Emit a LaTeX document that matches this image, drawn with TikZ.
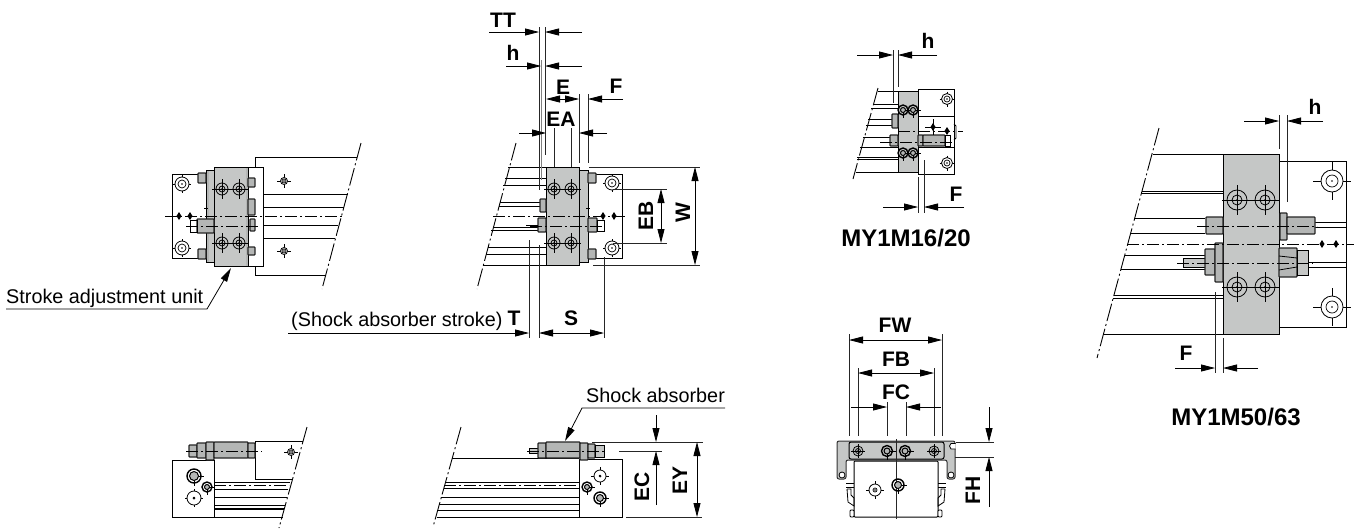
\documentclass[tikz,border=0pt]{standalone}
\usepackage{fontspec}
\setmainfont{Liberation Sans}
\usetikzlibrary{arrows.meta}
\definecolor{blockgray}{HTML}{C5C7C6}
\definecolor{midgray}{HTML}{B4B6B5}
\tikzset{
  x=1pt,y=-1pt,
  obj/.style={line width=1pt,draw=black},
  thin line/.style={line width=0.8pt,draw=black},
  heavy/.style={line width=1.6pt,draw=black},
  graybox/.style={line width=1pt,draw=black,fill=blockgray},
  darkbox/.style={line width=1.2pt,draw=black!85,fill=midgray},
  glue/.style={line width=0.9pt,draw=black,dash pattern=on 12pt off 3pt on 2pt off 3pt},
  breakl/.style={line width=0.9pt,draw=black,dash pattern=on 18pt off 3pt on 2pt off 3pt},
  dimext/.style={line width=0.8pt,draw=black!85},
  dimto/.style={line width=0.8pt,draw=black,-{Triangle[length=14pt,width=7pt]}},
  dimboth/.style={line width=0.8pt,draw=black,{Triangle[length=14pt,width=7pt]}-{Triangle[length=14pt,width=7pt]}},
  dimlabel/.style={font=\fontsize{21}{23}\selectfont\bfseries,inner sep=0pt},
  bigtitle/.style={font=\fontsize{24}{26}\selectfont\bfseries,inner sep=0pt},
  note/.style={font=\fontsize{19.8}{22}\selectfont,inner sep=0pt,anchor=base west},
}
\newcommand{\crossat}[3]{\draw[line width=0.6pt] (#1-#3,#2)--(#1+#3,#2) (#1,#2-#3)--(#1,#2+#3);}
\newcommand{\screwat}[5]{\crossat{#1}{#2}{#5}\draw[line width=0.8pt,fill=white] (#1,#2) circle[radius=#3];\draw[line width=0.7pt] (#1,#2) circle[radius=#4];\fill (#1,#2) circle[radius=0.9];}
\newcommand{\grayscrew}[5]{\crossat{#1}{#2}{#5}\draw[line width=0.8pt] (#1,#2) circle[radius=#3];\draw[line width=0.8pt] (#1,#2) circle[radius=#4];\fill (#1,#2) circle[radius=0.8];}
\newcommand{\darkscrew}[3]{\crossat{#1}{#2}{#3+3}\draw[line width=1.4pt] (#1,#2) circle[radius=#3];\draw[line width=1pt,fill=midgray] (#1,#2) circle[radius=#3-2.5];}
\newcommand{\diam}[2]{\fill (#1-2.5,#2)--(#1,#2-4)--(#1+2.5,#2)--(#1,#2+4)--cycle;}
\newcommand{\hexbox}[4]{\draw[darkbox,rounded corners=0.8pt] (#1,#2) rectangle (#3,#4);}
\begin{document}
\begin{tikzpicture}
\useasboundingbox (0,0) rectangle (1356,528);
\fill[white] (0,0) rectangle (1356,528);

% ---------- view 1, top left
\draw[obj] (255,157)--(357,157) (255,157)--(255,275)--(325,275);
\draw[breakl] (361,143)--(322,289);
\draw[obj] (172,174) rectangle (214,258);
\foreach \ya/\xb in {194/348,207/344,225/338,238/335}{\draw[obj] (263,\ya)--(\xb,\ya);}
\draw[graybox] (206,170) rectangle (214,262);
\fill[midgray] (206.5,170.5) rectangle (209,261.5);
\draw[graybox] (214,167) rectangle (248,266);
\fill[midgray] (246,167.5) rectangle (247.5,265.5);
\draw[obj,fill=white] (248,167) rectangle (263,266);
\hexbox{198}{173}{206}{183}
\hexbox{198}{249}{206}{259}
\hexbox{248}{178}{255}{187}
\hexbox{248}{247}{255}{255}
\hexbox{248}{199}{255}{215}
\hexbox{250}{219}{255}{231}
\hexbox{197}{219}{214}{233}
\draw[obj] (190,220) rectangle (197,232);
\draw[glue] (165,216)--(342,216);
\draw[glue] (186,226)--(258,226);
\diam{179}{216}\diam{190}{216}
\grayscrew{222}{189}{6}{3}{10}\grayscrew{239}{189}{6}{3}{10}\grayscrew{222}{243}{6}{3}{10}\grayscrew{239}{243}{6}{3}{10}
\screwat{182}{184}{7}{4}{9}\screwat{182}{248}{7}{4}{9}
\screwat{284}{181}{3.5}{2}{7}\screwat{284}{251}{3.5}{2}{7}
\crossat{206}{208}{2}
\coordinate (strokeA) at (6,309);
\coordinate (strokeB) at (207,309);
\coordinate (strokeC) at (231,268);
\draw[dimto] (strokeA)--(strokeB)--(strokeC);
\node[note] (stroke) at (6,303) {Stroke adjustment unit};

% ---------- view 2, top middle
\draw[obj] (508,167)--(546,167) (483,265)--(546,265);
\draw[breakl] (516,143)--(477,289);
\draw[obj] (595,174)--(622,174)--(622,258)--(595,258);
\foreach \ya/\xa in {178/505,185/503,247/488,254/486}{\draw[obj] (\xa,\ya)--(546,\ya);}
\foreach \ya/\xa in {202/500,206/499,227/493,230/491}{\draw[thin line] (\xa,\ya)--(540,\ya);}
\draw[graybox] (546,167) rectangle (579,265);
\draw[graybox] (579,170) rectangle (588,262);
\hexbox{588}{173}{596}{183}
\hexbox{588}{249}{596}{259}
\hexbox{540}{199}{546}{212}
\hexbox{538}{218}{546}{232}
\hexbox{588}{218}{597}{232}
\draw[obj] (597,220) rectangle (604,231);
\draw[thin line] (526,225)--(538,225);
\draw[glue] (493,216)--(627,216);
\draw[glue] (530,226)--(603,226);
\diam{603}{216}\diam{614}{216}
\grayscrew{554}{189}{6}{3}{10}\grayscrew{571}{189}{6}{3}{10}\grayscrew{554}{243}{6}{3}{10}\grayscrew{571}{243}{6}{3}{10}
\screwat{612}{183}{7}{4}{9}\screwat{612}{248}{7}{4}{9}
\crossat{588}{208}{2}
% dims, view 2
\draw[dimext] (539,27)--(539,190) (545,27)--(545,155);
\draw[dimext,gray,line width=1pt] (541,60)--(541,180);
\draw[dimto] (489,32)--(539,32);
\draw[dimto] (582,32)--(545,32);
\node[dimlabel] (tt) at (503,20) {TT};
\draw[dimto] (506,66)--(541,66);
\draw[dimto] (582,66)--(545,66);
\node[dimlabel] (h1) at (513,53) {h};
\draw[dimext] (579,94)--(579,163) (588,94)--(588,163);
\draw[dimboth] (546,99)--(579,99);
\draw[dimto] (623,99)--(588,99);
\node[dimlabel] (e) at (563,87) {E};
\node[dimlabel] (f1) at (616,86) {F};
\draw[dimext] (554,128)--(554,167) (571,128)--(571,167);
\draw[dimto] (519,133)--(546,133);
\draw[dimto] (607,133)--(579,133);
\node[dimlabel] (ea) at (561,119) {EA};
\draw[dimext] (613,189)--(667,189) (613,243)--(667,243);
\draw[dimboth] (661,189)--(661,243);
\node[dimlabel,rotate=90] (eb) at (646,216) {EB};
\draw[dimext] (589,167)--(700,167) (593,265)--(700,265);
\draw[dimboth] (695,167)--(695,265);
\node[dimlabel,rotate=90] (w) at (683,213) {W};
\draw[dimext] (529,240)--(529,338) (539,245)--(539,338) (604,257)--(604,338);
\draw[dimto] (288,333)--(529,333);
\draw[dimboth] (539,333)--(604,333);
\node[note] (shockstroke) at (291,326) {(Shock absorber stroke)};
\node[dimlabel] (t) at (514,318) {T};
\node[dimlabel] (s) at (571,318) {S};

% ---------- view 3, MY1M16/20
\draw[breakl] (878,88)--(853,179);
\draw[obj] (878,91)--(898,91) (856,172)--(898,172);
\foreach \ya/\xa in {104/873,108/871,119/868,125/866,137/863,147/860,157/857,159/857}{\draw[thin line] (\xa,\ya)--(898,\ya);}
\draw[obj] (918,89) rectangle (954,174);
\draw[thin line] (918,116)--(954,116) (918,147)--(954,147);
\draw[thin line] (954,124)--(956,126)--(956,138)--(954,140);
\draw[graybox] (898,91) rectangle (918,172);
\hexbox{892}{114}{898}{128}
\hexbox{890}{135}{898}{146}
\hexbox{918}{135}{923}{146}
\hexbox{923}{135}{945}{146}
\draw[obj] (945,135) rectangle (950,146);
\draw[thin line] (880,142)--(890,142);
\draw[glue] (898,131)--(963,131);
\draw[glue] (880,142)--(952,142);
\darkscrew{903}{110}{5}\darkscrew{913}{110}{5}\darkscrew{903}{153}{5}\darkscrew{913}{153}{5}
\screwat{947}{99}{5.5}{3}{7.5}\screwat{947}{163}{5.5}{3}{7.5}
\diam{933}{127}\diam{947}{131}
\crossat{933}{127}{8}
\draw[dimext] (893,50)--(893,103) (898,50)--(898,87);
\draw[dimto] (857,55)--(893,55);
\draw[dimto] (937,55)--(898,55);
\node[dimlabel] (h2) at (928,41) {h};
\draw[dimext] (918,177)--(918,213) (924,160)--(924,213);
\draw[dimto] (883,207)--(918,207);
\draw[dimto] (964,207)--(924,207);
\node[dimlabel] (f2) at (956,194) {F};
\node[bigtitle] (my1) at (906,238) {MY1M16/20};

% ---------- view 4, MY1M50/63
\draw[breakl] (1159,128)--(1097,358);
\draw[obj] (1153,154)--(1223,154) (1104,334)--(1223,334);
\draw[obj] (1279,161)--(1346,161)--(1346,327)--(1279,327);
\foreach \ya/\xa in {191/1142,193/1141,295/1114,298/1113}{\draw[thin line] (\xa,\ya)--(1223,\ya);}
\foreach \ya/\xa in {218/1135,233/1131,255/1125,269/1121}{\draw[obj] (\xa,\ya)--(1205,\ya);}
\draw[obj] (1315,222)--(1346,222) (1308,262)--(1346,262);
\draw[thin line] (1315,227)--(1346,227) (1308,267)--(1346,267);
\draw[graybox] (1223,154) rectangle (1279,334);
\hexbox{1206}{217}{1223}{234}
\hexbox{1280}{213}{1287}{240}
\hexbox{1287}{217}{1315}{234}
\draw[obj,fill=blockgray] (1183,258) rectangle (1205,267);
\hexbox{1205}{249}{1215}{275}
\hexbox{1215}{243}{1223}{282}
\hexbox{1279}{248}{1297}{277}
\draw[thin line] (1279,256)--(1297,258) (1279,270)--(1297,267);
\draw[obj,fill=blockgray] (1297,250) rectangle (1308,275);
\draw[glue] (1127,244)--(1354,244);
\draw[glue] (1197,226)--(1317,226);
\draw[glue] (1177,263)--(1313,263);
\diam{1322}{244}\diam{1336}{244}
\grayscrew{1237}{200}{10}{5}{15}\grayscrew{1265}{200}{10}{5}{15}
\grayscrew{1237}{287}{10}{5}{15}\grayscrew{1265}{287}{10}{5}{15}
\screwat{1332}{181}{11}{6}{19}\screwat{1332}{307}{11}{6}{19}
\draw[dimext] (1279,115)--(1279,149) (1287,115)--(1287,202);
\draw[dimto] (1244,121)--(1279,121);
\draw[dimto] (1323,121)--(1287,121);
\node[dimlabel] (h3) at (1315,107) {h};
\draw[dimext] (1215,292)--(1215,373) (1223,338)--(1223,373);
\draw[dimto] (1175,368)--(1215,368);
\draw[dimto] (1258,368)--(1223,368);
\node[dimlabel] (f3) at (1186,353) {F};
\node[bigtitle] (my2) at (1236,417) {MY1M50/63};

% ---------- view 5, bottom left
\draw[breakl] (307,427)--(279,528);
\draw[obj] (172,460) rectangle (214,517);
\draw[obj] (255,441)--(303,441) (255,441)--(255,479)--(292,479);
\foreach \ya/\xb in {482/290,489/288,497/287,505/285,517/283}{\draw[obj] (214,\ya)--(\xb,\ya);}
\draw[heavy] (214,509)--(284,509);
\draw[glue] (214,485)--(289,485);
\hexbox{189}{445}{197}{457}
\hexbox{197}{443}{206}{458}
\hexbox{206}{442}{214}{460}
\hexbox{214}{442}{248}{458}
\hexbox{248}{443}{255}{458}
\draw[glue] (186,451)--(262,451);
\darkscrew{194}{476}{7}
\screwat{194}{498}{7}{1}{9}
\darkscrew{207}{487}{5}
\screwat{291}{452}{3.5}{2}{7}

% ---------- view 6, bottom middle
\draw[breakl] (461,427)--(433,527);
\draw[obj] (452,458)--(579,458) (437,517)--(579,517);
\draw[obj] (579,459) rectangle (622,517);
\foreach \ya/\xa in {482/445,488/444,497/441,504/439,510/438}{\draw[obj] (\xa,\ya)--(579,\ya);}
\draw[glue] (444,485)--(579,485);
\draw[obj,fill=blockgray] (529,448) rectangle (538,453);
\hexbox{538}{443}{546}{458}
\hexbox{546}{442}{580}{458}
\hexbox{580}{443}{588}{460}
\hexbox{588}{444}{595}{458}
\draw[obj,fill=blockgray] (595,445) rectangle (604,457);
\draw[glue] (527,451)--(605,451);
\screwat{600}{476}{6}{1}{9}
\darkscrew{600}{498}{6}
\darkscrew{587}{487}{5}
\coordinate (shA) at (725,408);
\coordinate (shB) at (582,408);
\coordinate (shC) at (565,441);
\draw[dimto] (shA)--(shB)--(shC);
\node[note] (shock) at (586,402) {Shock absorber};
\draw[dimext] (592,442)--(703,442) (619,451)--(662,451) (626,517)--(702,517);
\draw[dimto] (656,415)--(656,442);
\draw[dimto] (656,505)--(656,451);
\node[dimlabel,rotate=90] (ec) at (642,487) {EC};
\draw[dimboth] (697,442)--(697,517);
\node[dimlabel,rotate=90] (ey) at (680,480) {EY};

% ---------- view 7, bottom right
\draw[line width=1pt,draw=black!80,fill=blockgray,rounded corners=2pt] (837,441)--(955,441)--(955,479)--(947,479)--(947,460)--(846,460)--(846,479)--(837,479)--cycle;
\draw[line width=1pt,fill=blockgray,rounded corners=2pt] (849,442) rectangle (944,459);
\draw[obj,fill=white,rounded corners=1pt] (854,461) rectangle (938,517);
\draw[thin line] (846,483)--(854,483) (846,487)--(854,487) (938,483)--(946,483) (938,487)--(946,487);
\draw[thin line] (847,489)--(851,489)--(851,495)--(854,498)--(854,506)--(848,502)--(847,489);
\draw[thin line] (945,489)--(941,489)--(941,495)--(938,498)--(938,506)--(944,502)--(945,489);
\draw[thin line,fill=white,rounded corners=1pt] (850,510) rectangle (854,517);
\draw[thin line,fill=white,rounded corners=1pt] (938,510) rectangle (942,517);
\draw[line width=0.8pt,fill=white] (955.5,443.5)--(951,443.5)--(949.5,446)--(951,449)--(955.5,449);
\grayscrew{858}{451}{5}{2.5}{7}
\darkscrew{887}{451}{5.5}
\darkscrew{905}{451}{5.5}
\grayscrew{934}{451}{5}{2.5}{7}
\draw[thin line,fill=white] (842,475) circle[radius=3];
\draw[thin line,fill=white] (951,475) circle[radius=3];
\screwat{875}{490}{6}{2}{9}
\draw[dimext] (896,439)--(896,519);
\darkscrew{898}{485}{6}
\draw[dimext] (849,334)--(849,436) (942,334)--(942,436);
\draw[dimboth] (849,340)--(942,340);
\node[dimlabel] (fw) at (895,325) {FW};
\draw[dimext] (858,368)--(858,436) (934,368)--(934,436);
\draw[dimboth] (858,373)--(934,373);
\node[dimlabel] (fb) at (896,359) {FB};
\draw[dimext] (887,402)--(887,436) (906,402)--(906,436);
\draw[dimto] (851,407)--(887,407);
\draw[dimto] (941,407)--(906,407);
\node[dimlabel] (fc) at (896,392) {FC};
\draw[dimext] (956,442)--(994,442) (955,457)--(994,457);
\draw[dimto] (989,407)--(989,442);
\draw[dimto] (989,507)--(989,457);
\node[dimlabel,rotate=90] (fh) at (973,490) {FH};
\end{tikzpicture}
\end{document}
